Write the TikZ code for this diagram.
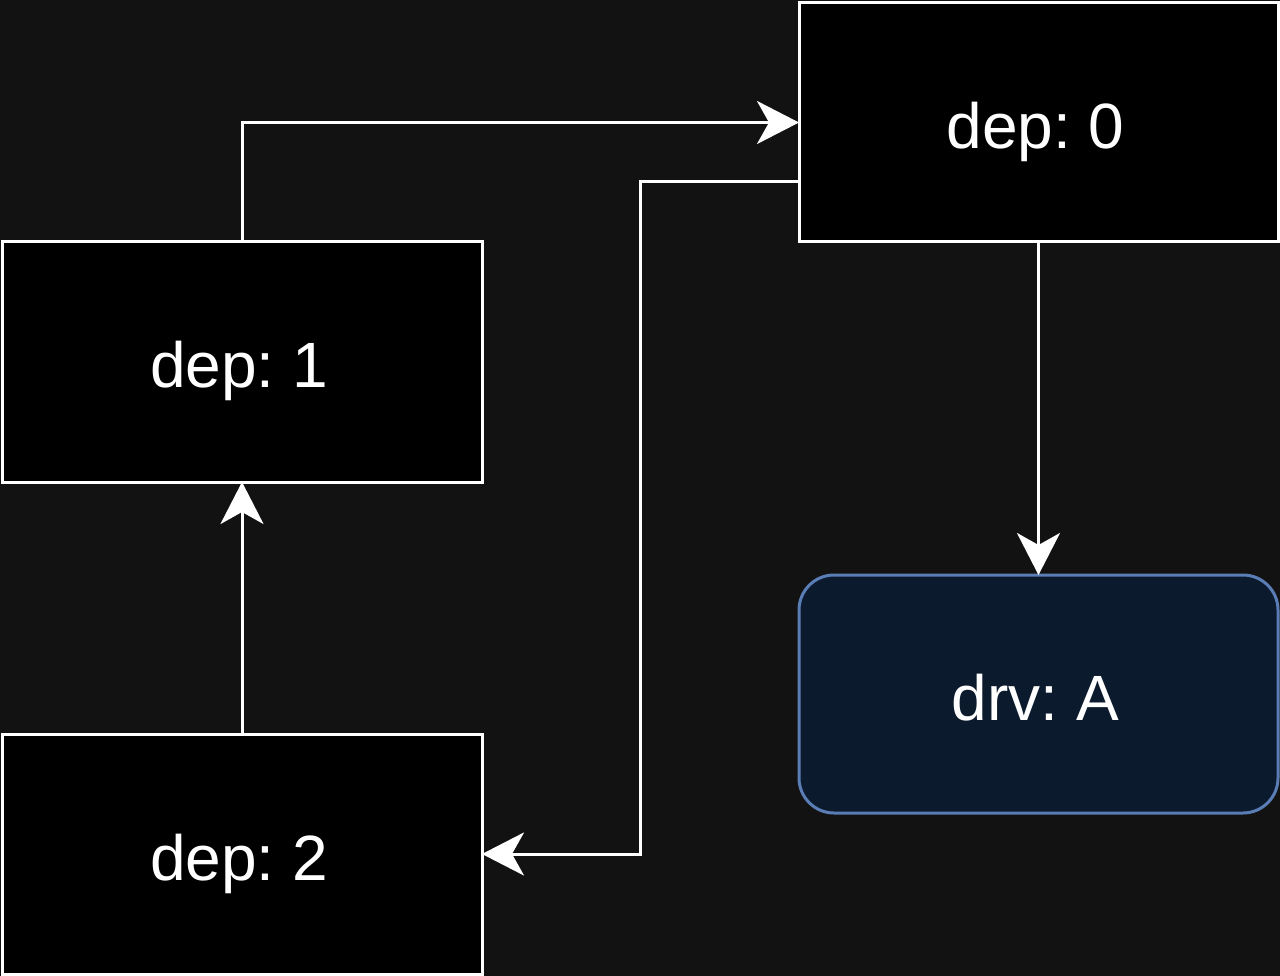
\documentclass[tikz,border=0pt]{standalone}
\usepackage{fontspec}
\setmainfont{Liberation Sans}
\usetikzlibrary{arrows.meta}
\definecolor{bgc}{HTML}{121212}
\definecolor{drvfill}{HTML}{0C1A2E}
\definecolor{drvline}{HTML}{5A7DB5}
\frenchspacing
\begin{document}
\begin{tikzpicture}[x=1pt,y=-1pt,
  box/.style={draw=white, fill=black, line width=3pt, minimum width=480pt, minimum height=240pt, inner sep=0pt, outer sep=0pt, text=white, text height=52pt, text depth=0pt, font=\fontsize{64}{70}\selectfont, execute at end node={\kern6pt}},
  drvbox/.style={box, draw=drvline, fill=drvfill, rounded corners=35pt},
  arr/.style={draw=white, line width=3pt, -{Stealth[length=42pt, width=43pt, inset=12pt]}}
]
\fill[bgc] (0,0) rectangle (1280,976);
\useasboundingbox (0,0) rectangle (1280,976);
\node[box, minimum width=479pt, minimum height=239pt] (dep0) at (1038.5,122.5) {dep: 0};
\node[box] (dep1) at (242,362) {dep: 1};
\node[box] (dep2) at (242,854) {dep: 2};
\node[drvbox, minimum width=479pt, minimum height=238pt] (drvA) at (1038.5,694) {drv: A};
\coordinate (c1) at (640,182);
\draw[arr] (dep1.north) |- (dep0.west);
\draw[arr] (dep0.west |- c1) -- (c1) |- (dep2.east);
\draw[arr] (dep0.south) -- (drvA.north);
\draw[arr] (dep2.north) -- (dep1.south);
\end{tikzpicture}
\end{document}
